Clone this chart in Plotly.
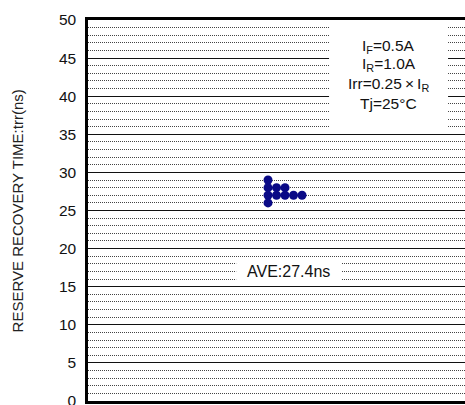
import plotly.graph_objects as go
from collections import defaultdict

# ---- data ----
trr_values = [29, 28, 28, 28, 27, 27, 27, 27, 27, 26]  # ns, one per device
y_ticks = [0, 5, 10, 15, 20, 25, 30, 35, 40, 45, 50]
y_title = "RESERVE RECOVERY TIME:trr(ns)"
cond_lines = ["I<sub>F</sub>=0.5A", "I<sub>R</sub>=1.0A", "Irr=0.25\u2009×\u2009I<sub>R</sub>", "Tj=25°C"]

# dot-plot stacking: repeated values go side by side
counts = defaultdict(int)
xs, ys = [], []
for v in trr_values:
    xs.append(counts[v])
    ys.append(v)
    counts[v] += 1
ave = sum(trr_values) / len(trr_values)

FONT = "Liberation Sans, Arial, Helvetica, sans-serif"

fig = go.Figure()
fig.add_trace(go.Scatter(
    x=xs, y=ys, mode="markers",
    marker=dict(size=9, color="#0a0a86", line=dict(width=0)),
    hoverinfo="y", showlegend=False,
))

# white boxes hiding the grid behind the labels
fig.add_shape(type="rect", xref="paper", yref="y", x0=0.636, x1=0.95, y0=35.4, y1=49.8,
              fillcolor="white", line=dict(width=0), layer="above")
fig.add_shape(type="rect", xref="paper", yref="y", x0=0.391, x1=0.668, y0=15.5, y1=18.5,
              fillcolor="white", line=dict(width=0), layer="above")

cond_y = [46.5, 44.1, 41.6, 39.0]
for txt, yy in zip(cond_lines, cond_y):
    fig.add_annotation(text=txt, xref="paper", yref="y", x=0.794, y=yy,
                       showarrow=False, xanchor="center", yanchor="middle",
                       font=dict(family=FONT, size=15.5, color="#111"))

fig.add_annotation(text=f"AVE:{ave:.1f}ns", xref="paper", yref="y", x=0.53, y=17.0,
                   showarrow=False, xanchor="center", yanchor="middle",
                   font=dict(family=FONT, size=16, color="#111"))

fig.add_annotation(text=y_title, xref="paper", yref="paper", x=-0.185, y=0.5,
                   textangle=-90, showarrow=False, xanchor="center", yanchor="middle",
                   font=dict(family=FONT, size=15, color="#222"))

fig.update_layout(
    width=467, height=405,
    margin=dict(l=88, r=0, t=20, b=4, autoexpand=False),
    plot_bgcolor="white", paper_bgcolor="white",
    font=dict(family=FONT, size=15.5, color="#111"),
)
fig.update_xaxes(range=[-21.18, 23.41], showgrid=False, zeroline=False, automargin=False,
                 showticklabels=False, ticks="", showline=True, mirror=True,
                 linecolor="black", linewidth=2.5)
fig.update_yaxes(range=[0, 50], tickvals=y_ticks, showgrid=True, gridcolor="#111", gridwidth=1,
                 zeroline=False, showline=True, mirror=False, linecolor="black", linewidth=2.5,
                 ticks="", ticklabelstandoff=6, automargin=False, ticklabeloverflow="allow",
                 tickfont=dict(family=FONT, size=15.5, color="#111"),
                 minor=dict(dtick=1, showgrid=True, gridcolor="#444", gridwidth=1, griddash="1px,1px"))

fig.write_html("out.html", config={"displayModeBar": False},
               post_script="document.body.style.margin='0';document.body.style.overflow='hidden';")
